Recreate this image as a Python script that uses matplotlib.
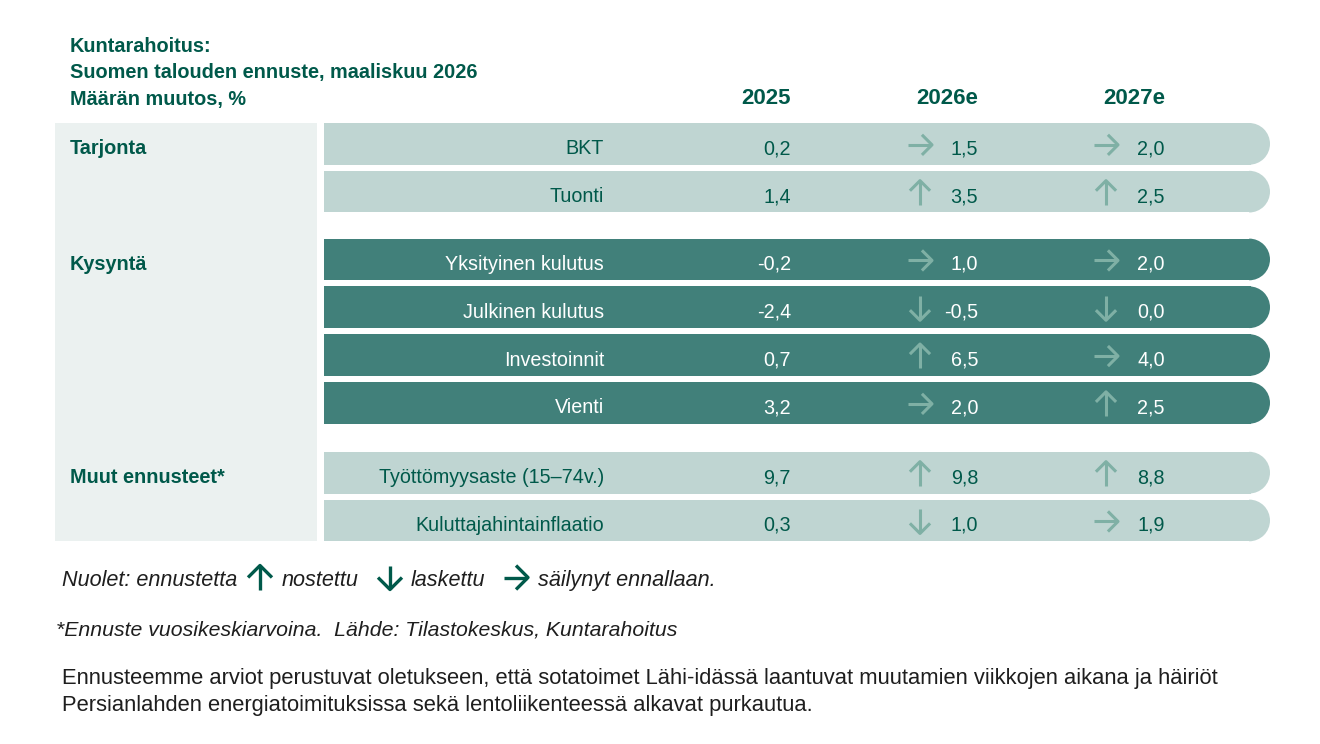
import matplotlib
matplotlib.use("Agg")
import matplotlib.pyplot as plt
from matplotlib.patches import Rectangle, Wedge

plt.rcParams['font.family'] = ['Liberation Sans', 'DejaVu Sans']

# Data
otsikko = ["Kuntarahoitus:", "Suomen talouden ennuste, maaliskuu 2026", "Määrän muutos, %"]
vuodet = ["2025", "2026e", "2027e"]
ryhmat = ["Tarjonta", "Kysyntä", "Muut ennusteet*"]
ryhma_koot = [2, 4, 2]
ryhma_tumma = [False, True, False]
muuttujat = ["BKT", "Tuonti", "Yksityinen kulutus", "Julkinen kulutus",
             "Investoinnit", "Vienti", "Työttömyysaste (15–74v.)",
             "Kuluttajahintainflaatio"]
arvot_2025 = [0.2, 1.4, -0.2, -2.4, 0.7, 3.2, 9.7, 0.3]
arvot_2026 = [1.5, 3.5, 1.0, -0.5, 6.5, 2.0, 9.8, 1.0]
arvot_2027 = [2.0, 2.5, 2.0, 0.0, 4.0, 2.5, 8.8, 1.9]
nuolet_2026 = ["right", "up", "right", "down", "up", "right", "up", "down"]
nuolet_2027 = ["right", "up", "right", "down", "right", "up", "up", "right"]
selite = ["Nuolet: ennustetta", "nostettu", "laskettu", "säilynyt ennallaan."]
selite_nuolet = ["up", "down", "right"]
lahde = "*Ennuste vuosikeskiarvoina.  Lähde: Tilastokeskus, Kuntarahoitus"
teksti = ["Ennusteemme arviot perustuvat oletukseen, että sotatoimet Lähi-idässä laantuvat muutamien viikkojen aikana ja häiriöt",
          "Persianlahden energiatoimituksissa sekä lentoliikenteessä alkavat purkautua."]

# Colours
vihrea = "#00594A"
vaalea = "#BFD5D2"
tumma = "#41807A"
paneeli = "#EBF1F0"
nuoli_vari = "#7FB0A5"
teksti_vari = "#1E1E1E"

fs_otsikko = 14.35
fs_sarake = 16
fs_taulu = 14.2
fs_selite = 15.6
fs_lahde = 15.35
fs_teksti = 15.8


def fmt(v):
    return f"{v:.1f}".replace(".", ",")


def nuoli(ax, cx, cy, suunta, vari, koko=12, karki=0.75, lw=2.2):
    # shaft + chevron head
    h = koko * karki
    if suunta == "up":
        ax.plot([cx, cx], [cy + koko, cy - koko + 1], color=vari, lw=lw, solid_capstyle="butt")
        ax.plot([cx - h, cx, cx + h], [cy - koko + h, cy - koko, cy - koko + h], color=vari, lw=lw)
    elif suunta == "down":
        ax.plot([cx, cx], [cy - koko, cy + koko - 1], color=vari, lw=lw, solid_capstyle="butt")
        ax.plot([cx - h, cx, cx + h], [cy + koko - h, cy + koko, cy + koko - h], color=vari, lw=lw)
    else:
        ax.plot([cx - koko, cx + koko - 1], [cy, cy], color=vari, lw=lw, solid_capstyle="butt")
        ax.plot([cx + koko - h, cx + koko, cx + koko - h], [cy - h, cy, cy + h], color=vari, lw=lw)


fig = plt.figure(figsize=(13.2, 7.44), dpi=100)
ax = fig.add_axes([0, 0, 1, 1])
ax.set_xlim(0, 1320)
ax.set_ylim(744, 0)
ax.axis("off")

# Title
for i, rivi in enumerate(otsikko):
    ax.text(70, 52 + i * 26.3, rivi, fontsize=fs_otsikko, fontweight="bold", color=vihrea,
            va="baseline", ha="left")

# Column headers
x_arvo = [791, 978, 1165]
x_nuoli = [None, 920, 1106]
for x, v in zip(x_arvo, vuodet):
    ax.text(x, 104.5, v, fontsize=fs_sarake, fontweight="bold", color=vihrea,
            va="baseline", ha="right")

# Row layout
rivi_y0 = 123
rivi_h = 41.7
rivi_vali = 47.8
ryhma_vali = [20, 22]
x0, x1 = 324, 1270
perus = 10.5  # baseline offset from row centre

ylat = []
y = rivi_y0
for g, n in enumerate(ryhma_koot):
    for k in range(n):
        ylat.append(y)
        y += rivi_vali
    if g < len(ryhma_vali):
        y += ryhma_vali[g]

# Left panel
ax.add_patch(Rectangle((55, ylat[0]), 316.7 - 55, ylat[-1] + rivi_h - ylat[0],
                       facecolor=paneeli, edgecolor="none"))

idx = 0
for g, n in enumerate(ryhma_koot):
    tummana = ryhma_tumma[g]
    tausta = tumma if tummana else vaalea
    fg = "white" if tummana else vihrea
    ax.text(70, ylat[idx] + rivi_h / 2 + perus, ryhmat[g], fontsize=fs_otsikko,
            fontweight="bold", color=vihrea, va="baseline", ha="left")
    for k in range(n):
        yt = ylat[idx]
        yc = yt + rivi_h / 2
        r = rivi_h / 2
        ax.add_patch(Rectangle((x0, yt), x1 - r - x0 + 2, rivi_h, facecolor=tausta,
                               edgecolor="none"))
        ax.add_patch(Wedge((x1 - r, yc), r, -90, 90, facecolor=tausta, edgecolor="none"))
        yb = yc + perus
        ax.text(604, yb, muuttujat[idx], fontsize=fs_taulu, color=fg, va="baseline", ha="right")
        ax.text(x_arvo[0], yb, fmt(arvot_2025[idx]), fontsize=fs_taulu, color=fg,
                va="baseline", ha="right")
        ax.text(x_arvo[1], yb, fmt(arvot_2026[idx]), fontsize=fs_taulu, color=fg,
                va="baseline", ha="right")
        ax.text(x_arvo[2], yb, fmt(arvot_2027[idx]), fontsize=fs_taulu, color=fg,
                va="baseline", ha="right")
        nuoli(ax, x_nuoli[1], yc + 1, nuolet_2026[idx], nuoli_vari)
        nuoli(ax, x_nuoli[2], yc + 1, nuolet_2027[idx], nuoli_vari)
        idx += 1

# Legend line
sel_x = [62, 282, 411, 538]
sel_nuoli_x = [260, 390, 516]
for x, s in zip(sel_x, selite):
    ax.text(x, 586, s, fontsize=fs_selite, style="italic", color=teksti_vari,
            va="baseline", ha="left")
for x, s in zip(sel_nuoli_x, selite_nuolet):
    nuoli(ax, x, 577.5, s, vihrea, koko=12, karki=0.9, lw=2.4)

ax.text(56, 636, lahde, fontsize=fs_lahde, style="italic", color=teksti_vari,
        va="baseline", ha="left")
for i, rivi in enumerate(teksti):
    ax.text(62, 684 + i * 27.5, rivi, fontsize=fs_teksti, color=teksti_vari,
            va="baseline", ha="left")

fig.savefig("out.png", dpi=100)
